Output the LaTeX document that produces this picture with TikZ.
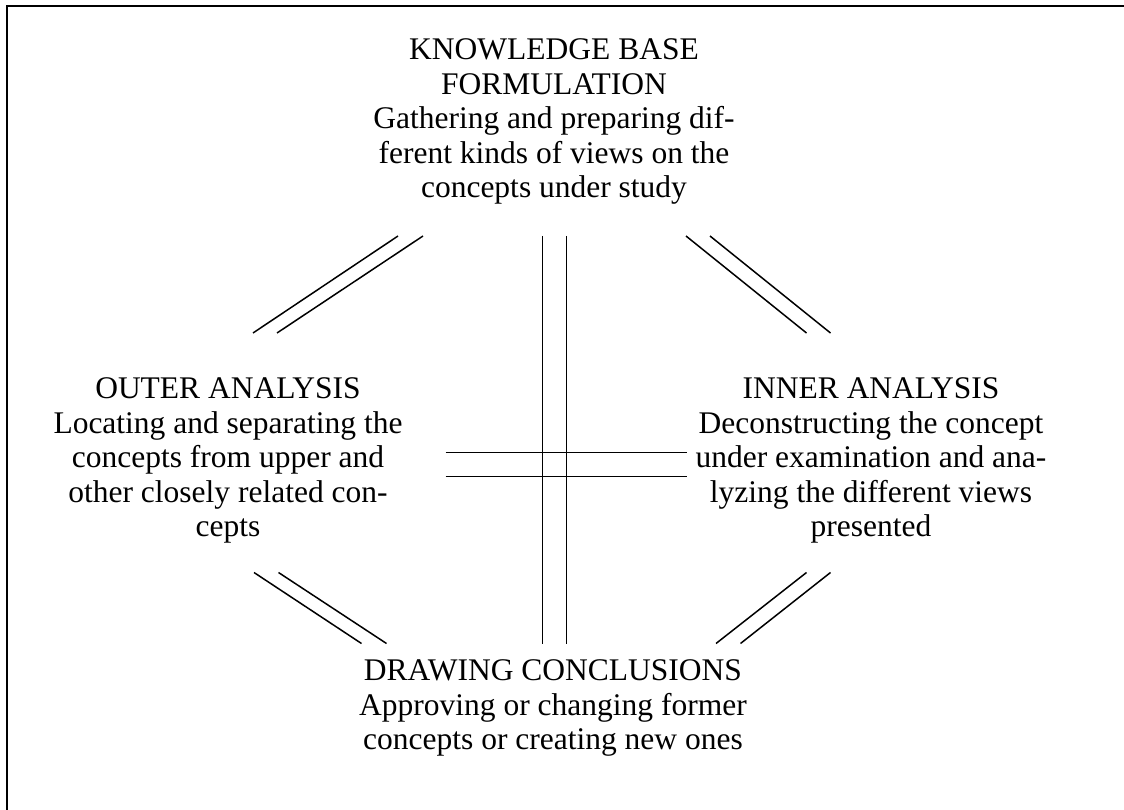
\documentclass[tikz,border=0pt]{standalone}
\usepackage{fontspec}
\setmainfont{Liberation Serif}
\begin{document}
\begin{tikzpicture}[x=1pt,y=-1pt,
  blocktext/.style={align=center,inner sep=0pt,anchor=north,font=\fontsize{31.5}{34.5}\selectfont},
  dline/.style={line width=1.5pt,line cap=butt},
  frameline/.style={line width=2pt}]
\useasboundingbox (0,0) rectangle (1124,810);
% frame (top and left edges)
\coordinate (fA) at (6.5,810);
\coordinate (fB) at (6.5,6.5);
\coordinate (fC) at (1124,6.5);
\draw[frameline] (fA) -- (fB) -- (fC);
% text blocks
\node[blocktext] (kb) at (554,38.5) {KNOWLEDGE BASE\\FORMULATION\\Gathering and preparing dif-\\ferent kinds of views on the\\concepts under study};
\node[blocktext] (outer) at (228,377.5) {OUTER ANALYSIS\\Locating and separating the\\concepts from upper and\\other closely related con-\\cepts};
\node[blocktext] (inner) at (871,377.5) {INNER ANALYSIS\\Deconstructing the concept\\under examination and ana-\\lyzing the different views\\presented};
\node[blocktext] (concl) at (553,659.5) {DRAWING CONCLUSIONS\\Approving or changing former\\concepts or creating new ones};
% top-left pair
\coordinate (tl1a) at (398,236); \coordinate (tl1b) at (253,333);
\coordinate (tl2a) at (423,236); \coordinate (tl2b) at (277,333);
\draw[dline] (tl1a) -- (tl1b);
\draw[dline] (tl2a) -- (tl2b);
% top-right pair
\coordinate (tr1a) at (686,236); \coordinate (tr1b) at (806.5,333);
\coordinate (tr2a) at (710,236); \coordinate (tr2b) at (830.5,333);
\draw[dline] (tr1a) -- (tr1b);
\draw[dline] (tr2a) -- (tr2b);
% bottom-left pair
\coordinate (bl1a) at (254,572.5); \coordinate (bl1b) at (361.5,643.5);
\coordinate (bl2a) at (278.5,572.5); \coordinate (bl2b) at (386.5,643.5);
\draw[dline] (bl1a) -- (bl1b);
\draw[dline] (bl2a) -- (bl2b);
% bottom-right pair
\coordinate (br1a) at (806.5,572.5); \coordinate (br1b) at (716,643.5);
\coordinate (br2a) at (830.5,572.5); \coordinate (br2b) at (740.5,643.5);
\draw[dline] (br1a) -- (br1b);
\draw[dline] (br2a) -- (br2b);
% vertical pair
\coordinate (v1a) at (542.7,236); \coordinate (v1b) at (542.7,643.5);
\coordinate (v2a) at (566.7,236); \coordinate (v2b) at (566.7,643.5);
\draw[dline] (v1a) -- (v1b);
\draw[dline] (v2a) -- (v2b);
% horizontal pair
\coordinate (h1a) at (445.7,452.7); \coordinate (h1b) at (687.3,452.7);
\coordinate (h2a) at (445.7,476.7); \coordinate (h2b) at (687.3,476.7);
\draw[dline] (h1a) -- (h1b);
\draw[dline] (h2a) -- (h2b);
\end{tikzpicture}
\end{document}
